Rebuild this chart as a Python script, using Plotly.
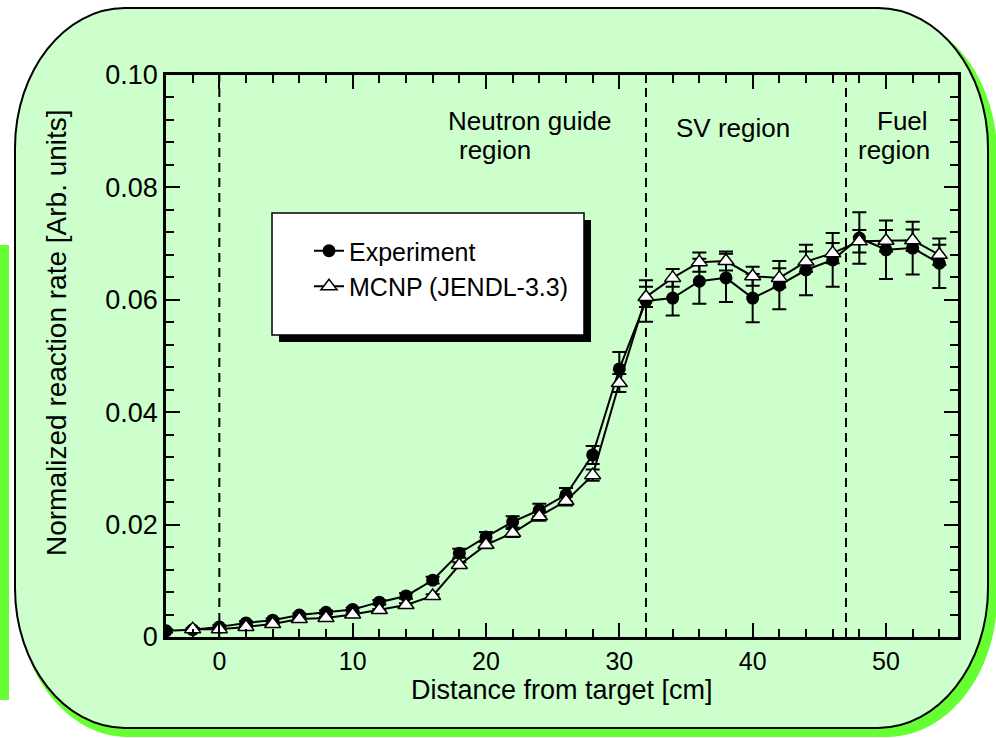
import plotly.graph_objects as go

# ---------------- data ----------------
exp_x = [-4, -2, 0, 2, 4, 6, 8, 10, 12, 14, 16, 18, 20, 22, 24, 26, 28, 30,
         32, 34, 36, 38, 40, 42, 44, 46, 48, 50, 52, 54]
exp_y = [0.0011, 0.0013, 0.0018, 0.0025, 0.0030, 0.0039, 0.0044, 0.0049,
         0.0062, 0.0073, 0.0101, 0.0149, 0.0178, 0.0205, 0.0226, 0.0253,
         0.0324, 0.0477, 0.0598, 0.0603, 0.0633, 0.0639, 0.0603, 0.0626,
         0.0653, 0.0671, 0.0710, 0.0689, 0.0692, 0.0665]
exp_err = [0.0003, 0.0003, 0.0003, 0.0003, 0.0003, 0.0003, 0.0003, 0.0003,
           0.0004, 0.0005, 0.0006, 0.0008, 0.0009, 0.0010, 0.0011, 0.0012,
           0.0016, 0.0030, 0.0037, 0.0031, 0.0040, 0.0043, 0.0043, 0.0043,
           0.0045, 0.0048, 0.0046, 0.0052, 0.0047, 0.0044]

mcnp_x = [-2, 0, 2, 4, 6, 8, 10, 12, 14, 16, 18, 20, 22, 24, 26, 28, 30,
          32, 34, 36, 38, 40, 42, 44, 46, 48, 50, 52, 54]
mcnp_y = [0.0014, 0.0014, 0.0018, 0.0023, 0.0032, 0.0034, 0.0040, 0.0048,
          0.0057, 0.0073, 0.0128, 0.0164, 0.0185, 0.0215, 0.0242, 0.0288,
          0.0452, 0.0605, 0.0639, 0.0667, 0.0669, 0.0642, 0.0639, 0.0668,
          0.0683, 0.0704, 0.0705, 0.0706, 0.0680]
mcnp_err = [0.0001, 0.0001, 0.0001, 0.0001, 0.0002, 0.0002, 0.0002, 0.0002,
            0.0003, 0.0003, 0.0005, 0.0006, 0.0007, 0.0008, 0.0008, 0.0010,
            0.0016, 0.0018, 0.0016, 0.0017, 0.0017, 0.0017, 0.0017, 0.0018,
            0.0018, 0.0020, 0.0019, 0.0019, 0.0018]

region_bounds = [0, 32, 47]
x_tick_vals = [0, 10, 20, 30, 40, 50]
y_tick_vals = [0, 0.02, 0.04, 0.06, 0.08, 0.10]
y_tick_text = ["0", "0.02", "0.04", "0.06", "0.08", "0.10"]

# ---------------- layout geometry (pixels) ----------------
W_FIG, H_FIG = 996, 738
L, R, T, B = 166, 958, 75, 637
PW, PH = R - L, B - T


def px(xp):
    return (xp - L) / PW


def py(yp):
    return (B - yp) / PH


def rounded_path(x0, y0, x1, y1, rx, ry):
    k = 0.55
    pts = []
    pts.append(f"M {px(x0 + rx)},{py(y0)}")
    pts.append(f"L {px(x1 - rx)},{py(y0)}")
    pts.append(f"C {px(x1 - rx + k * rx)},{py(y0)} {px(x1)},{py(y0 + ry - k * ry)} {px(x1)},{py(y0 + ry)}")
    pts.append(f"L {px(x1)},{py(y1 - ry)}")
    pts.append(f"C {px(x1)},{py(y1 - ry + k * ry)} {px(x1 - rx + k * rx)},{py(y1)} {px(x1 - rx)},{py(y1)}")
    pts.append(f"L {px(x0 + rx)},{py(y1)}")
    pts.append(f"C {px(x0 + rx - k * rx)},{py(y1)} {px(x0)},{py(y1 - ry + k * ry)} {px(x0)},{py(y1 - ry)}")
    pts.append(f"L {px(x0)},{py(y0 + ry)}")
    pts.append(f"C {px(x0)},{py(y0 + ry - k * ry)} {px(x0 + rx - k * rx)},{py(y0)} {px(x0 + rx)},{py(y0)}")
    pts.append("Z")
    return " ".join(pts)


FONT = "Liberation Sans, Arial, sans-serif"

fig = go.Figure()

fig.add_trace(go.Scatter(
    x=exp_x, y=exp_y, name="Experiment", mode="lines+markers",
    line=dict(color="black", width=2),
    marker=dict(symbol="circle", size=13, color="black"),
    error_y=dict(type="data", array=exp_err, visible=True, color="black",
                 thickness=2, width=7),
))
fig.add_trace(go.Scatter(
    x=mcnp_x, y=mcnp_y, name="MCNP (JENDL-3.3)", mode="lines+markers",
    line=dict(color="black", width=2),
    marker=dict(symbol="triangle-up", size=14, color="white",
                line=dict(color="black", width=1.5)),
    error_y=dict(type="data", array=mcnp_err, visible=True, color="black",
                 thickness=2, width=7),
))

shapes = []
# background shadow and rounded panel
shapes.append(dict(type="path", xref="paper", yref="paper", layer="below",
                   path=rounded_path(18, 15, 997, 737, 110, 140),
                   fillcolor="#66FF33", line=dict(width=0)))
shapes.append(dict(type="path", xref="paper", yref="paper", layer="below",
                   path=rounded_path(15, 8, 988, 728, 110, 140),
                   fillcolor="#CCFFCC", line=dict(color="black", width=2)))
# small left strip
shapes.append(dict(type="rect", xref="paper", yref="paper", layer="below",
                   x0=px(0), x1=px(9), y0=py(700), y1=py(245),
                   fillcolor="#66FF33", line=dict(width=0)))
# region boundaries
for xb in region_bounds:
    shapes.append(dict(type="line", xref="x", yref="paper", x0=xb, x1=xb,
                       y0=0, y1=1, layer="below",
                       line=dict(color="black", width=2, dash="9px,6px")))
# legend box with shadow
shapes.append(dict(type="rect", xref="paper", yref="paper", layer="above",
                   x0=px(279), x1=px(591), y0=py(342), y1=py(220),
                   fillcolor="black", line=dict(width=0)))
shapes.append(dict(type="rect", xref="paper", yref="paper", layer="above",
                   x0=px(272), x1=px(584), y0=py(335), y1=py(213),
                   fillcolor="white", line=dict(color="black", width=1.5)))

annots = []
txt_font = dict(family=FONT, size=26, color="black")
annots.append(dict(text="Neutron guide", x=px(446), y=py(121), xref="paper", yref="paper",
                   xanchor="left", yanchor="middle", showarrow=False, font=txt_font))
annots.append(dict(text="region", x=px(457), y=py(150), xref="paper", yref="paper",
                   xanchor="left", yanchor="middle", showarrow=False, font=txt_font))
annots.append(dict(text="SV region", x=px(733), y=py(128), xref="paper", yref="paper",
                   xanchor="center", yanchor="middle", showarrow=False, font=txt_font))
annots.append(dict(text="Fuel", x=px(902), y=py(121), xref="paper", yref="paper",
                   xanchor="center", yanchor="middle", showarrow=False, font=txt_font))
annots.append(dict(text="region", x=px(894), y=py(150), xref="paper", yref="paper",
                   xanchor="center", yanchor="middle", showarrow=False, font=txt_font))
# axis titles
annots.append(dict(text="Distance from target [cm]", x=px(562), y=py(690),
                   xref="paper", yref="paper", xanchor="center", yanchor="middle",
                   showarrow=False, font=dict(family=FONT, size=27, color="black")))
annots.append(dict(text="Normalized reaction rate [Arb. units]", x=px(56), y=py(333),
                   xref="paper", yref="paper", xanchor="center", yanchor="middle",
                   textangle=-90, showarrow=False,
                   font=dict(family=FONT, size=28, color="black")))

fig.update_layout(
    width=W_FIG, height=H_FIG,
    margin=dict(l=L, r=W_FIG - R, t=T, b=H_FIG - B, pad=0),
    paper_bgcolor="white",
    plot_bgcolor="rgba(0,0,0,0)",
    font=dict(family=FONT, size=26, color="black"),
    showlegend=True,
    legend=dict(x=px(309), y=py(228), xanchor="left", yanchor="top",
                bgcolor="rgba(0,0,0,0)", borderwidth=0,
                font=dict(family=FONT, size=25, color="black"),
                traceorder="normal", tracegroupgap=8),
    shapes=shapes,
    annotations=annots,
    xaxis=dict(range=[-4, 55.4], tickvals=x_tick_vals, ticks="inside",
               ticklen=14, tickwidth=2, tickcolor="black",
               showline=True, linecolor="black", linewidth=2.5, mirror="allticks",
               showgrid=False, zeroline=False,
               minor=dict(dtick=2, tick0=0, ticks="inside", ticklen=8,
                          tickwidth=2, tickcolor="black"),
               tickfont=dict(family=FONT, size=25)),
    yaxis=dict(range=[0, 0.1], tickvals=y_tick_vals, ticktext=y_tick_text,
               ticks="inside", ticklen=14, tickwidth=2, tickcolor="black",
               showline=True, linecolor="black", linewidth=2.5, mirror="allticks",
               showgrid=False, zeroline=False,
               minor=dict(dtick=0.004, tick0=0, ticks="inside", ticklen=8,
                          tickwidth=2, tickcolor="black"),
               tickfont=dict(family=FONT, size=27)),
)

fig.write_html("out.html")
